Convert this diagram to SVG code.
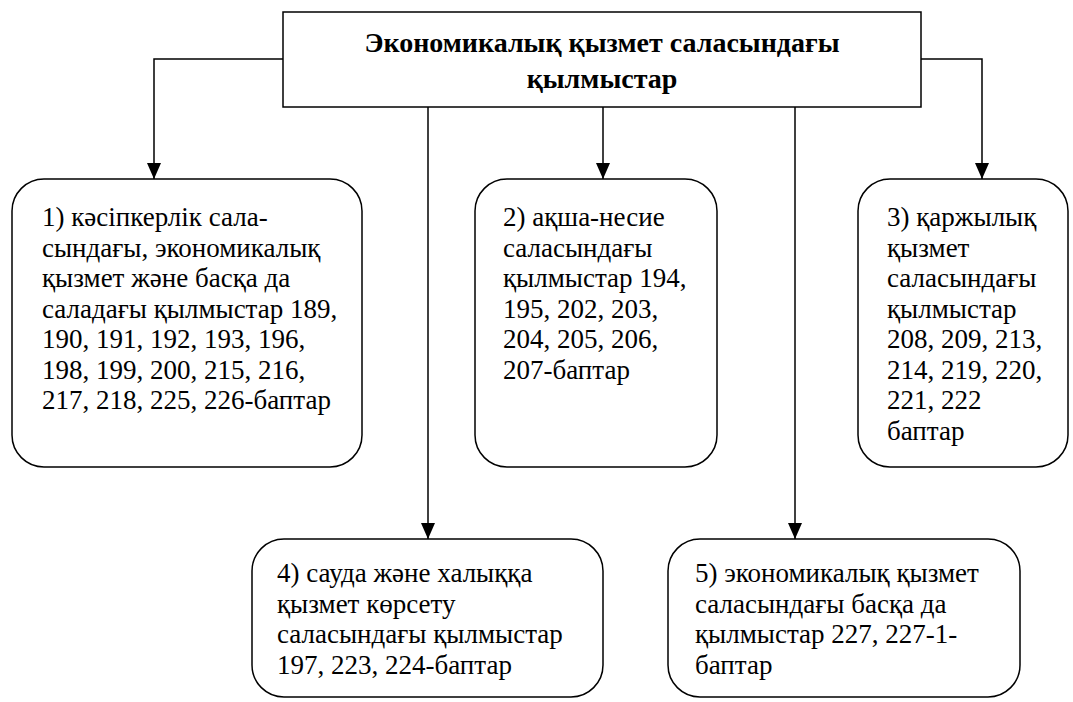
<svg xmlns="http://www.w3.org/2000/svg" width="1073" height="702" viewBox="0 0 1073 702">
<style>
.box{fill:#fff;stroke:#000;stroke-width:1.5}
.t{font-family:"Liberation Serif","Times New Roman",serif;font-size:27px;fill:#000}
.h{font-family:"Liberation Serif","Times New Roman",serif;font-size:28px;font-weight:bold;fill:#000;text-anchor:middle}
.c{fill:none;stroke:#000;stroke-width:1.5}
</style>
<defs>
<marker id="ah" markerWidth="16" markerHeight="14" refX="16" refY="7" orient="auto" markerUnits="userSpaceOnUse" viewBox="0 0 16 14">
<path d="M0,0 L16,7 L0,14 Z" fill="#000"/>
</marker>
</defs>
<rect width="1073" height="702" fill="#fff"/>
<g id="connectors">
<polyline class="c" points="283,59 154,59 154,179" marker-end="url(#ah)"/>
<polyline class="c" points="921,59 982,59 982,179" marker-end="url(#ah)"/>
<line class="c" x1="428" y1="107" x2="428" y2="539" marker-end="url(#ah)"/>
<line class="c" x1="603" y1="107" x2="603" y2="179" marker-end="url(#ah)"/>
<line class="c" x1="795" y1="107" x2="795" y2="539" marker-end="url(#ah)"/>
</g>
<g id="root">
<rect class="box" x="283" y="12" width="638" height="95"/>
<text class="h" x="602" y="52">Экономикалық қызмет саласындағы</text>
<text class="h" x="602" y="88">қылмыстар</text>
</g>
<g id="n1">
<rect class="box" x="12" y="179" width="350" height="288" rx="32"/>
<text class="t" x="42" y="226">
<tspan x="42">1) кәсіпкерлік сала-</tspan>
<tspan x="42" dy="30.5">сындағы, экономикалық</tspan>
<tspan x="42" dy="30.5">қызмет және басқа да</tspan>
<tspan x="42" dy="30.5">саладағы қылмыстар 189,</tspan>
<tspan x="42" dy="30.5">190, 191, 192, 193, 196,</tspan>
<tspan x="42" dy="30.5">198, 199, 200, 215, 216,</tspan>
<tspan x="42" dy="30.5">217, 218, 225, 226-баптар</tspan>
</text>
</g>
<g id="n2">
<rect class="box" x="475" y="179" width="242" height="288" rx="32"/>
<text class="t" x="503" y="226">
<tspan x="503">2) ақша-несие</tspan>
<tspan x="503" dy="30.5">саласындағы</tspan>
<tspan x="503" dy="30.5">қылмыстар 194,</tspan>
<tspan x="503" dy="30.5">195, 202, 203,</tspan>
<tspan x="503" dy="30.5">204, 205, 206,</tspan>
<tspan x="503" dy="30.5">207-баптар</tspan>
</text>
</g>
<g id="n3">
<rect class="box" x="858" y="179" width="210" height="288" rx="32"/>
<text class="t" x="887" y="226">
<tspan x="887">3) қаржылық</tspan>
<tspan x="887" dy="30.5">қызмет</tspan>
<tspan x="887" dy="30.5">саласындағы</tspan>
<tspan x="887" dy="30.5">қылмыстар</tspan>
<tspan x="887" dy="30.5">208, 209, 213,</tspan>
<tspan x="887" dy="30.5">214, 219, 220,</tspan>
<tspan x="887" dy="30.5">221, 222</tspan>
<tspan x="887" dy="30.5">баптар</tspan>
</text>
</g>
<g id="n4">
<rect class="box" x="252" y="539" width="351" height="158" rx="32"/>
<text class="t" x="277" y="582">
<tspan x="277">4) сауда және халыққа</tspan>
<tspan x="277" dy="30.5">қызмет көрсету</tspan>
<tspan x="277" dy="30.5">саласындағы қылмыстар</tspan>
<tspan x="277" dy="30.5">197, 223, 224-баптар</tspan>
</text>
</g>
<g id="n5">
<rect class="box" x="668" y="539" width="352" height="158" rx="32"/>
<text class="t" x="695" y="582">
<tspan x="695">5) экономикалық қызмет</tspan>
<tspan x="695" dy="30.5">саласындағы басқа да</tspan>
<tspan x="695" dy="30.5">қылмыстар 227, 227-1-</tspan>
<tspan x="695" dy="30.5">баптар</tspan>
</text>
</g>
</svg>
